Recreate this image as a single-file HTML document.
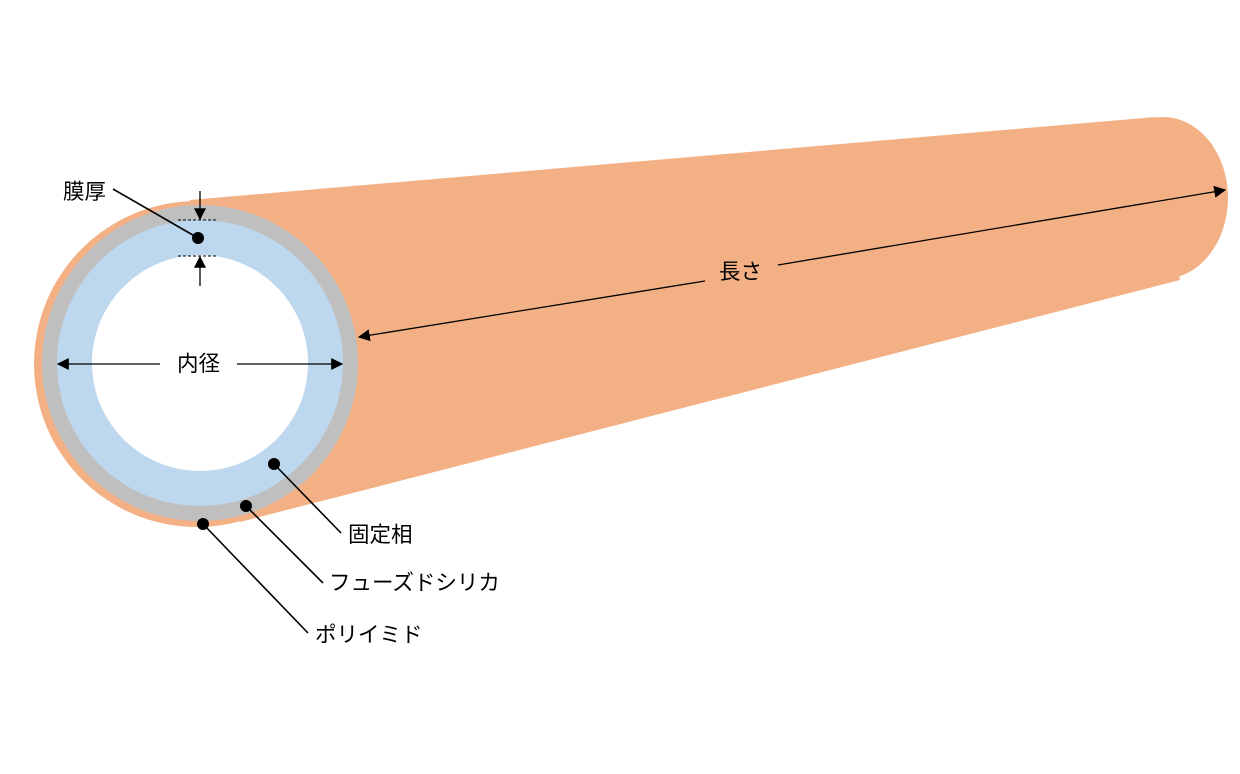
<!DOCTYPE html>
<html><head><meta charset="utf-8"><style>
html,body{margin:0;padding:0;background:#fff;}
svg{display:block;}
text{font-family:"Liberation Sans","Noto Sans CJK JP",sans-serif;font-size:21.5px;fill:#000;}
</style></head><body>
<svg width="1240" height="774" viewBox="0 0 1240 774" xmlns="http://www.w3.org/2000/svg">
<defs>
<marker id="a" viewBox="0 0 10 10" refX="9" refY="5" markerWidth="12" markerHeight="12" markerUnits="userSpaceOnUse" orient="auto"><path d="M0,0 L10,5 L0,10 z" fill="#000"/></marker>
</defs>
<path d="M190,200 L1155,117 L1180,280 L240,522 Z" fill="#f3b084"/>
<ellipse cx="1163" cy="198" rx="65" ry="81" fill="#f3b084"/>
<circle cx="197" cy="364" r="163" fill="#f3b084"/>
<circle cx="200" cy="363" r="158" fill="#bfbfbf"/>
<circle cx="200" cy="363" r="143" fill="#bdd7ee"/>
<circle cx="200" cy="363" r="108" fill="#fff"/>
<line x1="178" y1="220" x2="218" y2="220" stroke="#000" stroke-width="1" stroke-dasharray="3,2"/>
<line x1="178" y1="256" x2="218" y2="256" stroke="#000" stroke-width="1" stroke-dasharray="3,2"/>
<line x1="200" y1="191" x2="200" y2="219" stroke="#000" stroke-width="1.3" marker-end="url(#a)"/>
<line x1="200" y1="286" x2="200" y2="257" stroke="#000" stroke-width="1.3" marker-end="url(#a)"/>
<line x1="113" y1="189" x2="198" y2="238" stroke="#000" stroke-width="1.6"/>
<circle cx="198" cy="238" r="6" fill="#000"/>
<text x="63" y="199">膜厚</text>
<line x1="160" y1="364" x2="58" y2="364" stroke="#000" stroke-width="1.3" marker-end="url(#a)"/>
<line x1="237" y1="364" x2="342" y2="364" stroke="#000" stroke-width="1.3" marker-end="url(#a)"/>
<text x="177" y="371">内径</text>
<line x1="705" y1="281" x2="359" y2="337" stroke="#000" stroke-width="1.3" marker-end="url(#a)"/>
<line x1="778" y1="265" x2="1225" y2="190" stroke="#000" stroke-width="1.3" marker-end="url(#a)"/>
<text x="719" y="279">長さ</text>
<line x1="274" y1="464" x2="341" y2="533" stroke="#000" stroke-width="1.6"/>
<circle cx="274" cy="464" r="6" fill="#000"/>
<line x1="246" y1="506" x2="323" y2="583" stroke="#000" stroke-width="1.6"/>
<circle cx="246" cy="506" r="6" fill="#000"/>
<line x1="203" y1="524" x2="308" y2="633" stroke="#000" stroke-width="1.6"/>
<circle cx="203" cy="524" r="6" fill="#000"/>
<text x="348" y="542">固定相</text>
<text x="329" y="590">フューズドシリカ</text>
<text x="315" y="642">ポリイミド</text>
</svg>
</body></html>
